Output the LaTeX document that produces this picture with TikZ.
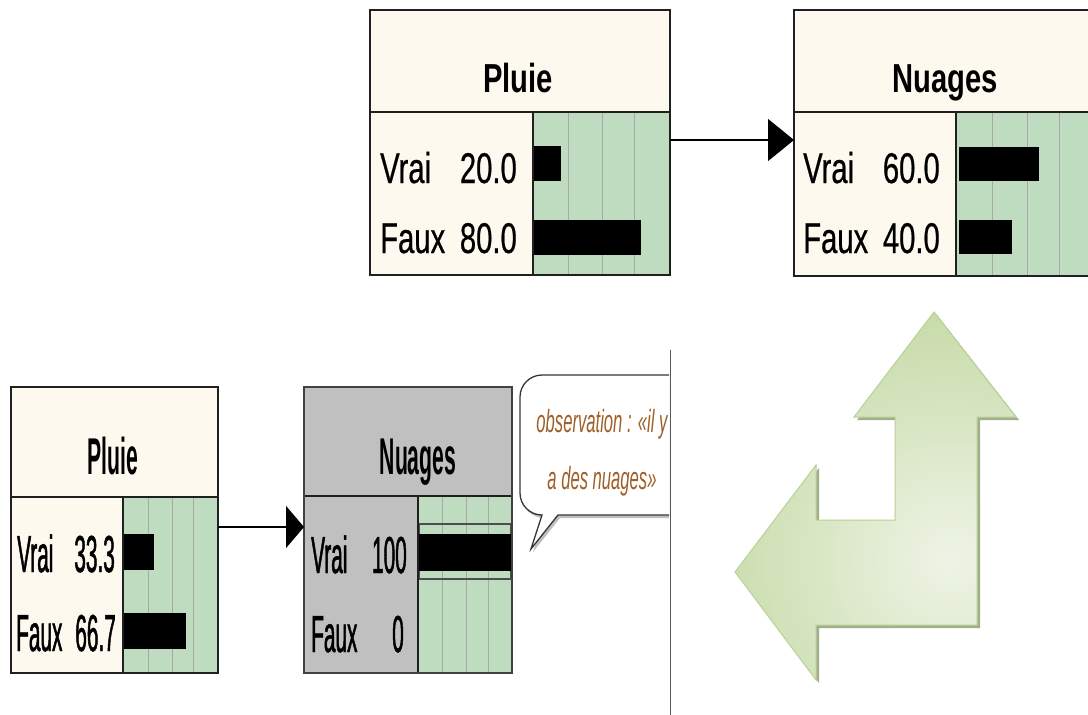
\documentclass[tikz,border=0pt]{standalone}
\usepackage{fontspec}
\setmainfont{Liberation Sans}
\newfontfamily\fontTop[FakeStretch=0.68, FakeBold=0.5]{Liberation Sans}
\newfontfamily\fontTopB[FakeStretch=0.72]{Liberation Sans}
\newfontfamily\fontBot[FakeStretch=0.40, FakeBold=0.9]{Liberation Sans}
\newfontfamily\fontBotB[FakeStretch=0.41]{Liberation Sans}
\newfontfamily\fontNote[FakeStretch=0.52]{Liberation Sans}
\usetikzlibrary{arrows.meta}

\definecolor{headfill}{HTML}{FEF9EF}
\definecolor{barfill}{HTML}{C0DCC0}
\definecolor{gridgray}{HTML}{A8A8A8}
\definecolor{evidgray}{HTML}{C0C0C0}
\definecolor{notebrown}{HTML}{A05F28}
\definecolor{frameclr}{HTML}{202020}
\definecolor{arrowdark}{HTML}{C4D9A3}
\definecolor{arrowlight}{HTML}{EEF4E6}
\definecolor{arrowedge}{HTML}{B9D197}
\definecolor{arrowshadow}{HTML}{A2AE8C}

\tikzset{
  boxframe/.style={draw=frameclr, line width=1.5pt, rectangle, inner sep=0pt, outer sep=0pt, anchor=north west},
  divider/.style={draw=frameclr, line width=1.5pt},
  gridline/.style={draw=gridgray, line width=0.9pt},
  bar/.style={fill=black},
  toptitle/.style={anchor=base, inner sep=0pt, font=\fontTopB\bfseries\fontsize{40.5}{40.5}\selectfont},
  toptext/.style={inner sep=0pt, font=\fontTop\fontsize{43}{43}\selectfont},
  bottitle/.style={anchor=base, inner sep=0pt, font=\fontBotB\bfseries\fontsize{51.7}{51.7}\selectfont},
  bottext/.style={inner sep=0pt, font=\fontBot\fontsize{52}{52}\selectfont},
  notetext/.style={inner sep=0pt, anchor=base, text=notebrown, font=\fontNote\itshape\fontsize{32}{32}\selectfont},
  link/.style={draw=black, line width=1.3pt},
}

\begin{document}
\begin{tikzpicture}[x=1pt, y=-1pt]
\useasboundingbox[fill=white] (0,0) rectangle (1088,715);

% ---------- Pluie (prior) ----------
\fill[headfill] (370,10) rectangle (670,275);
\fill[barfill] (533,112) rectangle (670,275);
\foreach \x in {568,602,634} \draw[gridline] (\x,112) -- (\x,275);
\fill[bar] (534,146) rectangle (561,181);
\fill[bar] (534,220) rectangle (641,255);
\draw[divider] (370,112) -- (670,112) (533,112) -- (533,275);
\node[boxframe, minimum width=300pt, minimum height=265pt] (pA) at (370,10) {};
\node[toptitle] (pAt) at (518,92) {Pluie};
\node[toptext, anchor=base west] (pAv) at (380,183) {Vrai};
\node[toptext, anchor=base east] (pAvn) at (517,183) {20.0};
\node[toptext, anchor=base west] (pAf) at (380,253) {Faux};
\node[toptext, anchor=base east] (pAfn) at (517,253) {80.0};

% ---------- Nuages (prior) ----------
\fill[headfill] (794,10) rectangle (1096,276);
\fill[barfill] (956,112) rectangle (1096,276);
\foreach \x in {992,1027,1059} \draw[gridline] (\x,112) -- (\x,276);
\fill[bar] (959,147) rectangle (1039,181);
\fill[bar] (959,220) rectangle (1012,254);
\draw[divider] (794,112) -- (1096,112) (956,112) -- (956,276);
\node[boxframe, minimum width=302pt, minimum height=266pt] (nA) at (794,10) {};
\node[toptitle] (nAt) at (945,92) {Nuages};
\node[toptext, anchor=base west] (nAv) at (803,183) {Vrai};
\node[toptext, anchor=base east] (nAvn) at (940,183) {60.0};
\node[toptext, anchor=base west] (nAf) at (803,253) {Faux};
\node[toptext, anchor=base east] (nAfn) at (940,253) {40.0};

\coordinate (yA) at (0,140);
\draw[link, -{Triangle[length=26pt, width=42pt]}] (pA.east |- yA) -- (nA.west |- yA);

% ---------- Pluie (updated) ----------
\fill[headfill] (11,387) rectangle (218,673);
\fill[barfill] (123,497) rectangle (218,673);
\foreach \x in {148,172,193} \draw[gridline] (\x,497) -- (\x,673);
\fill[bar] (123,534) rectangle (154,570);
\fill[bar] (123,613) rectangle (186,649);
\draw[divider, line width=2.4pt] (11,497) -- (218,497);
\draw[divider] (123,497) -- (123,673);
\node[boxframe, minimum width=207pt, minimum height=286pt] (pB) at (11,387) {};
\node[bottitle] (pBt) at (113,474) {Pluie};
\node[bottext, anchor=base west] (pBv) at (17,572) {Vrai};
\node[bottext, anchor=base east] (pBvn) at (115,572) {33.3};
\node[bottext, anchor=base west] (pBf) at (16,651) {Faux};
\node[bottext, anchor=base east] (pBfn) at (116,651) {66.7};

% ---------- Nuages (observed) ----------
\fill[evidgray] (304,387) rectangle (512,673);
\fill[barfill] (418,496) rectangle (512,673);
\foreach \x in {442,466,488} \draw[gridline] (\x,496) -- (\x,673);
\draw[draw=frameclr!80, line width=1.3pt] (419,524) rectangle (511,579);
\fill[bar] (419,534) rectangle (511,571);
\draw[divider, line width=2.4pt] (304,496) -- (512,496);
\draw[divider] (418,496) -- (418,673);
\node[boxframe, draw=frameclr!85, minimum width=208pt, minimum height=286pt] (nB) at (304,387) {};
\node[bottitle] (nBt) at (418,474) {Nuages};
\node[bottext, anchor=base west] (nBv) at (311,573) {Vrai};
\node[bottext, anchor=base east] (nBvn) at (407,573) {100};
\node[bottext, anchor=base west] (nBf) at (311,652) {Faux};
\node[bottext, anchor=base east] (nBfn) at (404,652) {0};

\coordinate (yB) at (0,527);
\draw[link, -{Triangle[length=18pt, width=42pt]}] (pB.east |- yB) -- (nB.west |- yB);

% ---------- observation callout ----------
\begin{scope}
  \clip (500,350) rectangle (669,600);
  \fill[black!25] (544,518) [rounded corners=22pt] -- (522,518) -- (522,378) -- (702,378) -- (702,518) [sharp corners] -- (560,518) -- (533,552) -- cycle;
  \filldraw[fill=white, draw=frameclr!90, line width=1.3pt] (542,515) [rounded corners=22pt] -- (520,515) -- (520,375) -- (700,375) -- (700,515) [sharp corners] -- (558,515) -- (531,549) -- cycle;
  \node[notetext] (obs1) at (602,432) {observation : «il y};
  \node[notetext] (obs2) at (602,489) {a des nuages»};
\end{scope}

% separator
\draw[draw=black!65, line width=1pt] (670,350) -- (670,715);

% ---------- bent green arrow ----------
\fill[arrowshadow] ([shift={(3,3)}]934,312) -- ([shift={(3,3)}]1016,417) -- ([shift={(3,3)}]977,417) -- ([shift={(3,3)}]977,625)
  -- ([shift={(3,3)}]816,625) -- ([shift={(3,3)}]816,680) -- ([shift={(3,3)}]735,572) -- ([shift={(3,3)}]816,465)
  -- ([shift={(3,3)}]816,520) -- ([shift={(3,3)}]895,520) -- ([shift={(3,3)}]895,417) -- ([shift={(3,3)}]854,417) -- cycle;
\begin{scope}
  \clip (934,312) -- (1016,417) -- (977,417) -- (977,625) -- (816,625) -- (816,680) -- (735,572) -- (816,465)
    -- (816,520) -- (895,520) -- (895,417) -- (854,417) -- cycle;
  \shade[inner color=arrowlight, outer color=arrowdark] (950,560) circle (270);
\end{scope}
\draw[draw=arrowedge, line width=1pt, line join=miter] (934,312) -- (1016,417) -- (977,417) -- (977,625) -- (816,625) -- (816,680) -- (735,572) -- (816,465)
  -- (816,520) -- (895,520) -- (895,417) -- (854,417) -- cycle;
\end{tikzpicture}
\end{document}
